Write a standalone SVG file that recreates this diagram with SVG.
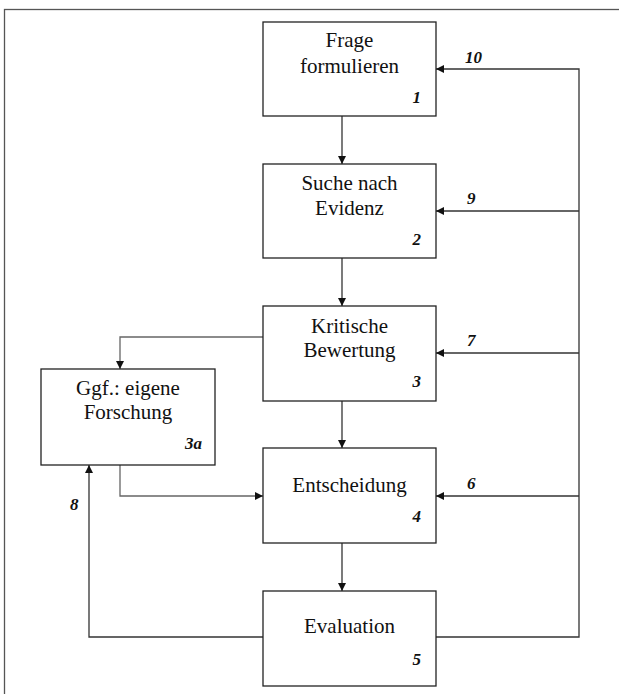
<svg xmlns="http://www.w3.org/2000/svg" width="619" height="694" viewBox="0 0 619 694">
<style>
.box{fill:#fff;stroke:#222;stroke-width:1.3}
.t{font-family:'Liberation Serif','Times New Roman',serif;font-size:21px;fill:#111;text-anchor:middle}
.n{font-family:'Liberation Serif','Times New Roman',serif;font-size:17px;font-weight:bold;font-style:italic;fill:#111}
.r{text-anchor:end}
.c{fill:none;stroke:#333;stroke-width:1.3}
.g{stroke:#666}
</style>
<defs>
<marker id="ah" viewBox="0 0 10 10" refX="10" refY="5" markerWidth="8" markerHeight="8" markerUnits="userSpaceOnUse" orient="auto">
<path d="M0,0 L10,5 L0,10 z" fill="#111"/>
</marker>
</defs>
<rect x="0" y="0" width="619" height="694" fill="#fff"/>
<rect x="4.5" y="9.5" width="700" height="700" fill="none" stroke="#555" stroke-width="1.3"/>
<g id="connectors">
<line class="c" x1="342" y1="116" x2="342" y2="164" marker-end="url(#ah)"/>
<line class="c" x1="342" y1="258" x2="342" y2="306" marker-end="url(#ah)"/>
<line class="c" x1="342" y1="401" x2="342" y2="448" marker-end="url(#ah)"/>
<line class="c" x1="342" y1="543" x2="342" y2="591" marker-end="url(#ah)"/>
<polyline class="c g" points="263,337 120,337 120,369" marker-end="url(#ah)"/>
<polyline class="c g" points="120,465 120,496 263,496" marker-end="url(#ah)"/>
<polyline class="c" points="263,637 89,637 89,465" marker-end="url(#ah)"/>
<polyline class="c" points="436,637 579,637 579,69 436,69" marker-end="url(#ah)"/>
<line class="c" x1="579" y1="211" x2="436" y2="211" marker-end="url(#ah)"/>
<line class="c" x1="579" y1="353" x2="436" y2="353" marker-end="url(#ah)"/>
<line class="c" x1="579" y1="496" x2="436" y2="496" marker-end="url(#ah)"/>
<text class="n" x="465" y="63">10</text>
<text class="n" x="467" y="204">9</text>
<text class="n" x="467" y="346">7</text>
<text class="n" x="467" y="489">6</text>
<text class="n" x="70" y="510">8</text>
</g>
<g id="node1">
<rect class="box" x="263" y="22" width="173" height="94"/>
<text class="t" x="349.5" y="47">Frage</text>
<text class="t" x="349.5" y="73">formulieren</text>
<text class="n r" x="421" y="103">1</text>
</g>
<g id="node2">
<rect class="box" x="263" y="164" width="173" height="94"/>
<text class="t" x="349.5" y="190">Suche nach</text>
<text class="t" x="349.5" y="215">Evidenz</text>
<text class="n r" x="421" y="245">2</text>
</g>
<g id="node3">
<rect class="box" x="263" y="306" width="173" height="95"/>
<text class="t" x="349.5" y="333">Kritische</text>
<text class="t" x="349.5" y="357">Bewertung</text>
<text class="n r" x="421" y="387">3</text>
</g>
<g id="node3a">
<rect class="box" x="41" y="369" width="174" height="96"/>
<text class="t" x="128" y="395">Ggf.: eigene</text>
<text class="t" x="128" y="419">Forschung</text>
<text class="n r" x="202" y="449">3a</text>
</g>
<g id="node4">
<rect class="box" x="263" y="448" width="173" height="95"/>
<text class="t" x="349.5" y="492">Entscheidung</text>
<text class="n r" x="421" y="522">4</text>
</g>
<g id="node5">
<rect class="box" x="263" y="591" width="173" height="95"/>
<text class="t" x="349.5" y="633">Evaluation</text>
<text class="n r" x="421" y="665">5</text>
</g>
</svg>
